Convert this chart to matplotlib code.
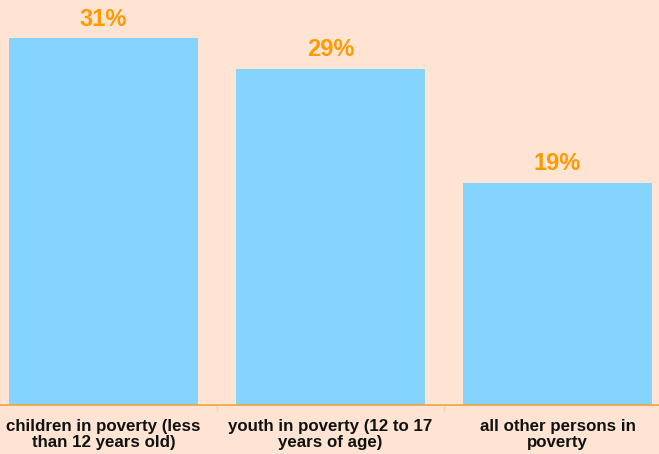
import matplotlib.pyplot as plt

categories = [
    "children in poverty (less\nthan 12 years old)",
    "youth in poverty (12 to 17\nyears of age)",
    "all other persons in\npoverty",
]
values = [31.2, 28.6, 18.9]

bg = "#FFE4D3"
bar_color = "#85D3FF"
label_color = "#FF9A00"

fig = plt.figure(figsize=(6.59, 4.54), dpi=100, facecolor=bg)
ax = fig.add_axes([0, 49 / 454, 1, 405 / 454], facecolor=bg)

x = range(len(values))
bars = ax.bar(x, values, width=0.833, color=bar_color, zorder=2)

for xi, v in zip(x, values):
    ax.text(xi, v + 0.65, f"{v:.0f}%", ha="center", va="bottom",
            fontsize=17, fontweight="bold", color=label_color,
            family="Liberation Sans")

ax.set_xlim(-0.456, 2.447)
ax.set_ylim(0, 34.45)
ax.set_yticks([])

ax.set_xticks(list(x))
ax.set_xticklabels(categories, fontsize=12.2, fontweight="bold",
                   color="#111111", family="Liberation Sans", linespacing=1.12)
ax.tick_params(axis="x", which="major", length=0, pad=10)
ax.set_xticks([0.5, 1.5], minor=True)
ax.tick_params(axis="x", which="minor", length=4, width=1, color="#F7D2A8", direction="out")

for side in ["top", "right", "left"]:
    ax.spines[side].set_visible(False)
ax.spines["bottom"].set_color("#F2A33A")
ax.spines["bottom"].set_linewidth(1.2)

fig.savefig("out.png", dpi=100, facecolor=bg)
